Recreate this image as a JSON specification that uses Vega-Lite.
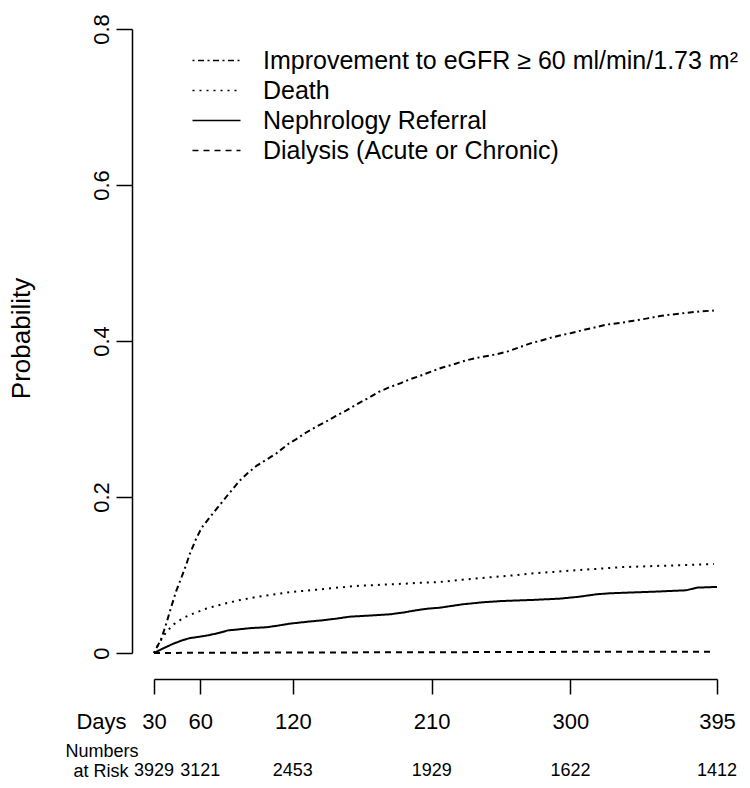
{
  "$schema": "https://vega.github.io/schema/vega-lite/v6.json",
  "background": "white",
  "padding": {"left": 8, "top": 13, "right": 0, "bottom": 0},
  "bounds": "flush",
  "spacing": 107,
  "config": {
    "font": "Liberation Sans",
    "view": {"stroke": null},
    "axis": {"domainColor": "black", "tickColor": "black", "domainWidth": 1.5, "tickWidth": 1.5, "labelColor": "black", "titleColor": "black", "grid": false, "labelFont": "Liberation Sans", "titleFont": "Liberation Sans", "titleFontWeight": "normal"}
  },
  "vconcat": [
    {
      "width": 563,
      "height": 624,
      "data": {
        "values": [
          {"series": "Improvement", "day": 30, "p": 0},
          {"series": "Improvement", "day": 34.8, "p": 0.0185},
          {"series": "Improvement", "day": 38, "p": 0.038},
          {"series": "Improvement", "day": 41.3, "p": 0.060},
          {"series": "Improvement", "day": 44.5, "p": 0.080},
          {"series": "Improvement", "day": 48.8, "p": 0.102},
          {"series": "Improvement", "day": 51, "p": 0.114},
          {"series": "Improvement", "day": 53, "p": 0.126},
          {"series": "Improvement", "day": 57, "p": 0.145},
          {"series": "Improvement", "day": 60.7, "p": 0.160},
          {"series": "Improvement", "day": 65, "p": 0.171},
          {"series": "Improvement", "day": 69.4, "p": 0.182},
          {"series": "Improvement", "day": 74, "p": 0.193},
          {"series": "Improvement", "day": 78, "p": 0.203},
          {"series": "Improvement", "day": 85.6, "p": 0.221},
          {"series": "Improvement", "day": 91, "p": 0.231},
          {"series": "Improvement", "day": 96.4, "p": 0.240},
          {"series": "Improvement", "day": 103, "p": 0.248},
          {"series": "Improvement", "day": 109.4, "p": 0.256},
          {"series": "Improvement", "day": 117, "p": 0.268},
          {"series": "Improvement", "day": 122, "p": 0.274},
          {"series": "Improvement", "day": 128.9, "p": 0.283},
          {"series": "Improvement", "day": 135, "p": 0.290},
          {"series": "Improvement", "day": 141.8, "p": 0.297},
          {"series": "Improvement", "day": 148, "p": 0.304},
          {"series": "Improvement", "day": 154.8, "p": 0.311},
          {"series": "Improvement", "day": 163.4, "p": 0.321},
          {"series": "Improvement", "day": 170, "p": 0.328},
          {"series": "Improvement", "day": 176, "p": 0.335},
          {"series": "Improvement", "day": 183, "p": 0.341},
          {"series": "Improvement", "day": 190, "p": 0.346},
          {"series": "Improvement", "day": 196, "p": 0.351},
          {"series": "Improvement", "day": 202, "p": 0.355},
          {"series": "Improvement", "day": 210, "p": 0.361},
          {"series": "Improvement", "day": 217, "p": 0.366},
          {"series": "Improvement", "day": 224, "p": 0.370},
          {"series": "Improvement", "day": 232, "p": 0.375},
          {"series": "Improvement", "day": 241, "p": 0.379},
          {"series": "Improvement", "day": 252, "p": 0.383},
          {"series": "Improvement", "day": 260, "p": 0.387},
          {"series": "Improvement", "day": 267, "p": 0.392},
          {"series": "Improvement", "day": 274, "p": 0.397},
          {"series": "Improvement", "day": 280, "p": 0.400},
          {"series": "Improvement", "day": 287, "p": 0.404},
          {"series": "Improvement", "day": 293, "p": 0.407},
          {"series": "Improvement", "day": 300, "p": 0.410},
          {"series": "Improvement", "day": 306, "p": 0.413},
          {"series": "Improvement", "day": 315, "p": 0.417},
          {"series": "Improvement", "day": 323, "p": 0.421},
          {"series": "Improvement", "day": 332, "p": 0.423},
          {"series": "Improvement", "day": 341, "p": 0.426},
          {"series": "Improvement", "day": 350, "p": 0.429},
          {"series": "Improvement", "day": 358, "p": 0.432},
          {"series": "Improvement", "day": 366, "p": 0.434},
          {"series": "Improvement", "day": 375, "p": 0.436},
          {"series": "Improvement", "day": 384, "p": 0.438},
          {"series": "Improvement", "day": 393, "p": 0.439},
          {"series": "Death", "day": 30, "p": 0},
          {"series": "Death", "day": 33, "p": 0.012},
          {"series": "Death", "day": 38, "p": 0.027},
          {"series": "Death", "day": 43, "p": 0.037},
          {"series": "Death", "day": 49, "p": 0.045},
          {"series": "Death", "day": 56, "p": 0.051},
          {"series": "Death", "day": 64, "p": 0.057},
          {"series": "Death", "day": 75, "p": 0.063},
          {"series": "Death", "day": 86, "p": 0.068},
          {"series": "Death", "day": 97, "p": 0.072},
          {"series": "Death", "day": 107, "p": 0.075},
          {"series": "Death", "day": 118, "p": 0.078},
          {"series": "Death", "day": 129, "p": 0.080},
          {"series": "Death", "day": 140, "p": 0.082},
          {"series": "Death", "day": 150, "p": 0.084},
          {"series": "Death", "day": 161, "p": 0.086},
          {"series": "Death", "day": 172, "p": 0.087},
          {"series": "Death", "day": 183, "p": 0.088},
          {"series": "Death", "day": 194, "p": 0.089},
          {"series": "Death", "day": 202, "p": 0.090},
          {"series": "Death", "day": 215, "p": 0.091},
          {"series": "Death", "day": 230, "p": 0.094},
          {"series": "Death", "day": 245, "p": 0.0966},
          {"series": "Death", "day": 260, "p": 0.099},
          {"series": "Death", "day": 275, "p": 0.102},
          {"series": "Death", "day": 289, "p": 0.104},
          {"series": "Death", "day": 303, "p": 0.106},
          {"series": "Death", "day": 318, "p": 0.108},
          {"series": "Death", "day": 332, "p": 0.110},
          {"series": "Death", "day": 347, "p": 0.111},
          {"series": "Death", "day": 362, "p": 0.112},
          {"series": "Death", "day": 378, "p": 0.113},
          {"series": "Death", "day": 393, "p": 0.114},
          {"series": "Nephrology", "day": 30, "p": 0},
          {"series": "Nephrology", "day": 36, "p": 0.006},
          {"series": "Nephrology", "day": 42.6, "p": 0.012},
          {"series": "Nephrology", "day": 48, "p": 0.016},
          {"series": "Nephrology", "day": 53, "p": 0.019},
          {"series": "Nephrology", "day": 60, "p": 0.021},
          {"series": "Nephrology", "day": 66, "p": 0.023},
          {"series": "Nephrology", "day": 72.6, "p": 0.026},
          {"series": "Nephrology", "day": 78, "p": 0.029},
          {"series": "Nephrology", "day": 83.5, "p": 0.030},
          {"series": "Nephrology", "day": 93, "p": 0.032},
          {"series": "Nephrology", "day": 103, "p": 0.033},
          {"series": "Nephrology", "day": 110, "p": 0.035},
          {"series": "Nephrology", "day": 118, "p": 0.0376},
          {"series": "Nephrology", "day": 129, "p": 0.040},
          {"series": "Nephrology", "day": 139.6, "p": 0.042},
          {"series": "Nephrology", "day": 148, "p": 0.044},
          {"series": "Nephrology", "day": 157, "p": 0.0466},
          {"series": "Nephrology", "day": 170, "p": 0.048},
          {"series": "Nephrology", "day": 183, "p": 0.0496},
          {"series": "Nephrology", "day": 192, "p": 0.052},
          {"series": "Nephrology", "day": 200, "p": 0.0548},
          {"series": "Nephrology", "day": 208, "p": 0.057},
          {"series": "Nephrology", "day": 215, "p": 0.058},
          {"series": "Nephrology", "day": 230, "p": 0.0624},
          {"series": "Nephrology", "day": 243, "p": 0.065},
          {"series": "Nephrology", "day": 256, "p": 0.0667},
          {"series": "Nephrology", "day": 275, "p": 0.068},
          {"series": "Nephrology", "day": 293, "p": 0.0697},
          {"series": "Nephrology", "day": 305, "p": 0.072},
          {"series": "Nephrology", "day": 317, "p": 0.0753},
          {"series": "Nephrology", "day": 326, "p": 0.0766},
          {"series": "Nephrology", "day": 340, "p": 0.0776},
          {"series": "Nephrology", "day": 354, "p": 0.0786},
          {"series": "Nephrology", "day": 375, "p": 0.0804},
          {"series": "Nephrology", "day": 382, "p": 0.0838},
          {"series": "Nephrology", "day": 395, "p": 0.0847},
          {"series": "Dialysis", "day": 30, "p": 0},
          {"series": "Dialysis", "day": 60, "p": 0.0003},
          {"series": "Dialysis", "day": 120, "p": 0.0006},
          {"series": "Dialysis", "day": 210, "p": 0.001},
          {"series": "Dialysis", "day": 270, "p": 0.0013},
          {"series": "Dialysis", "day": 300, "p": 0.0015},
          {"series": "Dialysis", "day": 392, "p": 0.0017}
        ]
      },
      "mark": {"type": "line", "strokeWidth": 2, "color": "black", "clip": false},
      "encoding": {
        "x": {
          "field": "day", "type": "quantitative",
          "scale": {"domain": [30, 395], "nice": false, "zero": false},
          "axis": {"values": [30, 60, 120, 210, 300, 395], "offset": 26, "tickSize": 15, "labelFontSize": 22, "labelBaseline": "alphabetic", "labelPadding": 34, "labelFlush": false, "labelOverlap": false, "title": "Days", "titleFontSize": 22, "titleX": -53, "titleY": 49, "titleAlign": "center", "titleBaseline": "alphabetic", "titleAnchor": null}
        },
        "y": {
          "field": "p", "type": "quantitative",
          "scale": {"domain": [0, 0.8], "nice": false},
          "axis": {"values": [0, 0.2, 0.4, 0.6, 0.8], "labelExpr": "datum.value == 0 ? '0' : format(datum.value, '.1f')", "offset": 22, "tickSize": 16, "labelFontSize": 22, "labelAngle": 270, "labelAlign": "center", "labelBaseline": "alphabetic", "labelPadding": 8, "labelFlush": false, "labelOverlap": false, "title": "Probability", "titleFontSize": 26, "titleX": -111, "titleY": 309, "titleAngle": 270, "titleAlign": "center", "titleBaseline": "middle"}
        },
        "strokeDash": {
          "field": "series", "type": "nominal",
          "scale": {
            "domain": ["Improvement", "Death", "Nephrology", "Dialysis"],
            "range": [[2, 3.5, 6, 3.5], [2, 5], [1, 0], [6, 5]]
          },
          "legend": {
            "orient": "none", "legendX": 50, "legendY": 19, "title": null, "padding": 0,
            "symbolType": "M-4,0H4", "symbolSize": 144, "symbolStrokeWidth": 1.5, "symbolStrokeColor": "black", "symbolFillColor": "transparent",
            "labelFontSize": 25, "labelOffset": 34, "rowPadding": 4, "labelColor": "black", "labelFont": "Liberation Sans", "labelLimit": 0,
            "labelExpr": "datum.value == 'Improvement' ? 'Improvement to eGFR ≥ 60 ml/min/1.73 m²' : datum.value == 'Death' ? 'Death' : datum.value == 'Nephrology' ? 'Nephrology Referral' : 'Dialysis (Acute or Chronic)'"
          }
        }
      }
    },
    {
      "width": 563,
      "height": 22,
      "data": {
        "values": [
          {"day": 30, "n": "3929", "row": "at Risk"},
          {"day": 60, "n": "3121", "row": "at Risk"},
          {"day": 120, "n": "2453", "row": "at Risk"},
          {"day": 210, "n": "1929", "row": "at Risk"},
          {"day": 300, "n": "1622", "row": "at Risk"},
          {"day": 395, "n": "1412", "row": "at Risk"}
        ]
      },
      "mark": {"type": "text", "fontSize": 18, "color": "black", "font": "Liberation Sans", "clip": false},
      "encoding": {
        "x": {"field": "day", "type": "quantitative", "scale": {"domain": [30, 395], "nice": false, "zero": false}, "axis": null},
        "y": {"field": "row", "type": "nominal", "axis": {"domain": false, "ticks": false, "tickSize": 0, "labelPadding": 26, "labelFontSize": 18, "labelBaseline": "middle", "title": "Numbers", "titleFontSize": 18, "titleAngle": 0, "titleAlign": "left", "titleBaseline": "alphabetic", "titleX": -89, "titleY": -4}},
        "text": {"field": "n", "type": "nominal"}
      }
    }
  ]
}
